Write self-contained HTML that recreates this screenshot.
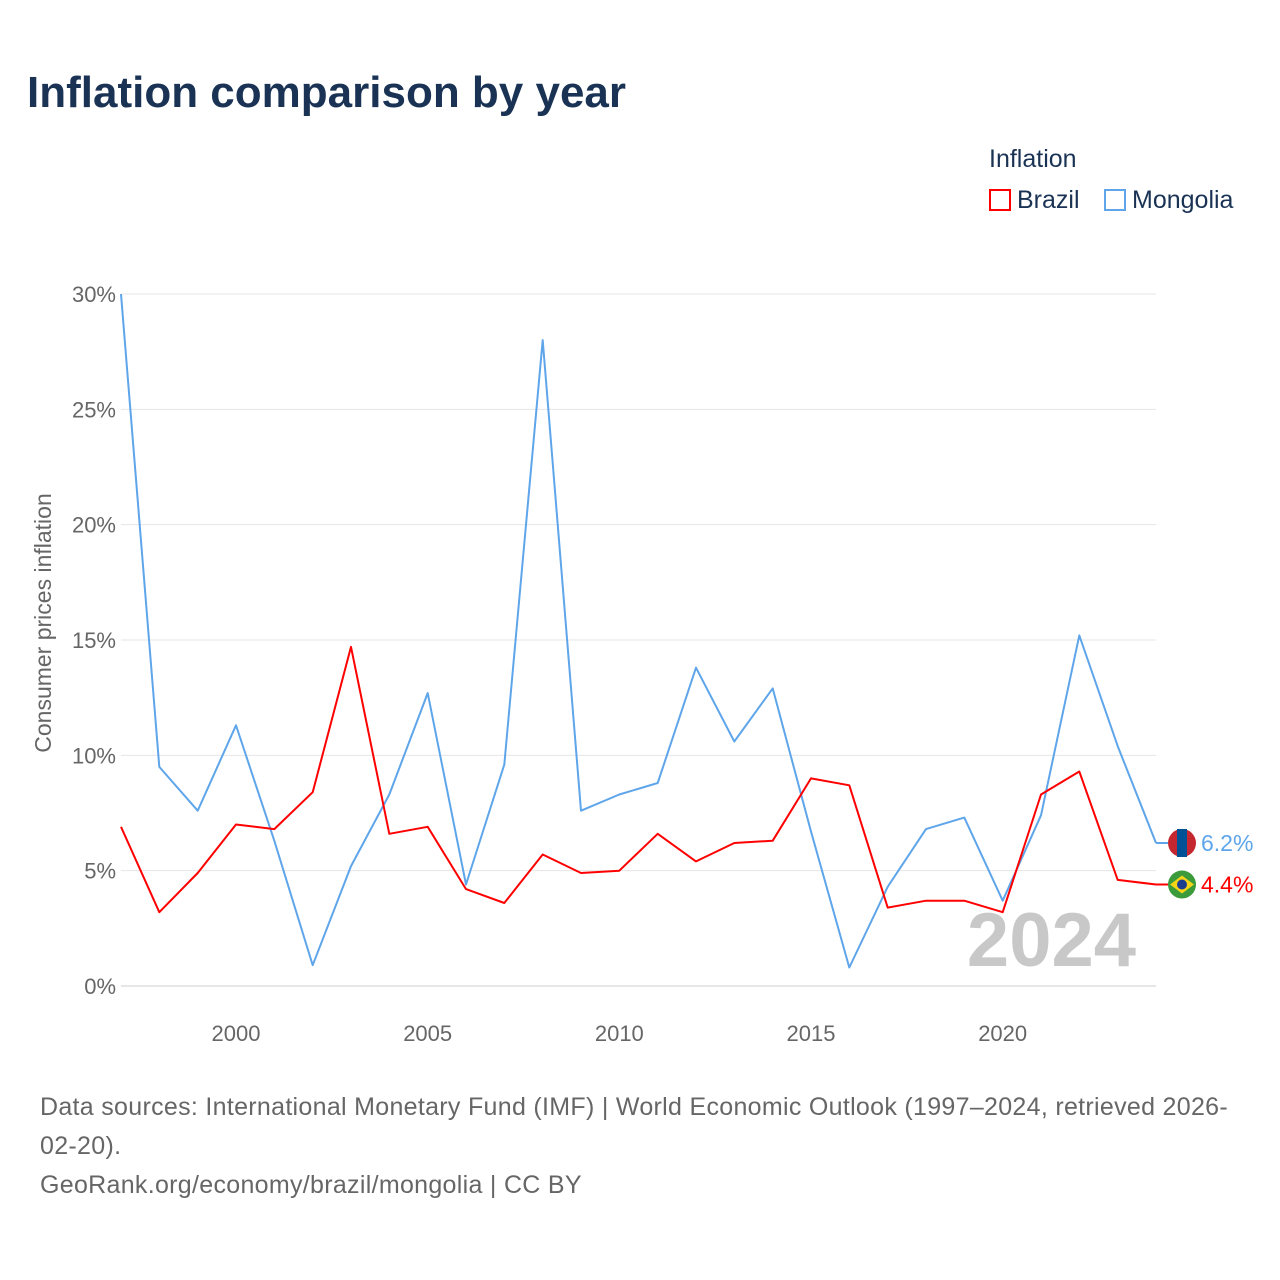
<!DOCTYPE html>
<html><head><meta charset="utf-8">
<style>
html,body{margin:0;padding:0;background:#fff;}
body{width:1280px;height:1280px;position:relative;font-family:"Liberation Sans",sans-serif;overflow:hidden;}
.t{position:absolute;}
</style></head>
<body>
<div class="t" style="left:27px;top:68px;font-size:44px;font-weight:bold;color:#1a3355;">Inflation comparison by year</div>
<div class="t" style="left:989px;top:145px;font-size:25px;color:#1a3355;">Inflation</div>
<div class="t" style="left:989px;top:186px;font-size:25px;color:#1a3355;"><span style="display:inline-block;width:22px;height:22px;border:2px solid #f00;box-sizing:border-box;vertical-align:-3px;margin-right:6px"></span>Brazil</div>
<div class="t" style="left:1104px;top:186px;font-size:25px;color:#1a3355;"><span style="display:inline-block;width:22px;height:22px;border:2px solid #5ea5ea;box-sizing:border-box;vertical-align:-3px;margin-right:6px"></span>Mongolia</div>
<svg id="chart" width="1280" height="1280" style="position:absolute;left:0;top:0"></svg>
<div class="t" style="left:40px;top:1088px;width:1220px;font-size:25px;line-height:39px;color:#666;letter-spacing:0.3px;">Data sources: International Monetary Fund (IMF) | World Economic Outlook (1997–2024, retrieved 2026-<br>02-20).<br>GeoRank.org/economy/brazil/mongolia | CC BY</div>
<script>
const years=[1997,1998,1999,2000,2001,2002,2003,2004,2005,2006,2007,2008,2009,2010,2011,2012,2013,2014,2015,2016,2017,2018,2019,2020,2021,2022,2023,2024];
const brazil=[6.9,3.2,4.9,7.0,6.8,8.4,14.7,6.6,6.9,4.2,3.6,5.7,4.9,5.0,6.6,5.4,6.2,6.3,9.0,8.7,3.4,3.7,3.7,3.2,8.3,9.3,4.6,4.4];
const mongolia=[30,9.5,7.6,11.3,6.3,0.9,5.2,8.3,12.7,4.4,9.6,28.0,7.6,8.3,8.8,13.8,10.6,12.9,6.7,0.8,4.3,6.8,7.3,3.7,7.4,15.2,10.4,6.2];
const yTicks=[0,5,10,15,20,25,30];
const xTicks=[2000,2005,2010,2015,2020];
const NS='http://www.w3.org/2000/svg';
const svg=document.getElementById('chart');
const x=v=>121+(v-1997)*(1156-121)/27;
const y=v=>986-v*(986-294)/30;
function el(t,a,txt){const e=document.createElementNS(NS,t);for(const k in a)e.setAttribute(k,a[k]);if(txt!==undefined)e.textContent=txt;svg.appendChild(e);return e;}
yTicks.forEach(v=>{
  const g=el('line',{x1:121,x2:1156,y1:y(v),y2:y(v),stroke:v===0?'#ccc':'#e6e6e6','stroke-width':1});
  
  
  const t=el('text',{x:116,y:y(v)+8,'text-anchor':'end','font-size':22,fill:'#666','font-family':'Liberation Sans'},v+'%');
  
  
});
xTicks.forEach(v=>{
  const t=el('text',{x:x(v),y:1041,'text-anchor':'middle','font-size':22,fill:'#666','font-family':'Liberation Sans'},v);
  
  
});
const yt=el('text',{x:0,y:0,transform:'translate(51,623) rotate(-90)','text-anchor':'middle','font-size':23,fill:'#666','font-family':'Liberation Sans'},'Consumer prices inflation');


const yr=el('text',{x:1136,y:966,'text-anchor':'end','font-size':76,'font-weight':'bold',fill:'#c8c8c8','font-family':'Liberation Sans'},'2024');


function line(vals,color,name){
  const d=vals.map((v,i)=>(i?'L':'M')+x(years[i]).toFixed(1)+','+y(v).toFixed(1)).join(' ');
  const p=el('path',{d:d,fill:'none',stroke:color,'stroke-width':2,'stroke-linejoin':'round'});
  
  
}
line(mongolia,'#5ea5ea','mongolia-line');
line(brazil,'#f00','brazil-line');
const lm=mongolia[mongolia.length-1], lb=brazil[brazil.length-1];
el('line',{x1:1156,x2:1168,y1:y(lm),y2:y(lm),stroke:'#5ea5ea','stroke-width':2});
const mf=el('circle',{cx:1182,cy:y(lm),r:14,fill:'#c4272f'});


el('rect',{x:1177,y:y(lm)-14,width:10,height:28,fill:'#015197'});
const ml=el('text',{x:1201,y:y(lm)+8,'font-size':23,fill:'#5ea5ea','font-family':'Liberation Sans'},lm.toFixed(1)+'%');


el('line',{x1:1156,x2:1168,y1:y(lb),y2:y(lb),stroke:'#f00','stroke-width':2});
const bf=el('circle',{cx:1182,cy:y(lb),r:14,fill:'#3b9b3b'});


el('path',{d:`M1170,${y(lb)} L1182,${y(lb)-9} L1194,${y(lb)} L1182,${y(lb)+9}Z`,fill:'#f5d417'});
el('circle',{cx:1182,cy:y(lb),r:5,fill:'#1d3d8f'});
const bl=el('text',{x:1201,y:y(lb)+8,'font-size':23,fill:'#f00','font-family':'Liberation Sans'},lb.toFixed(1)+'%');


</script>
</body></html>
